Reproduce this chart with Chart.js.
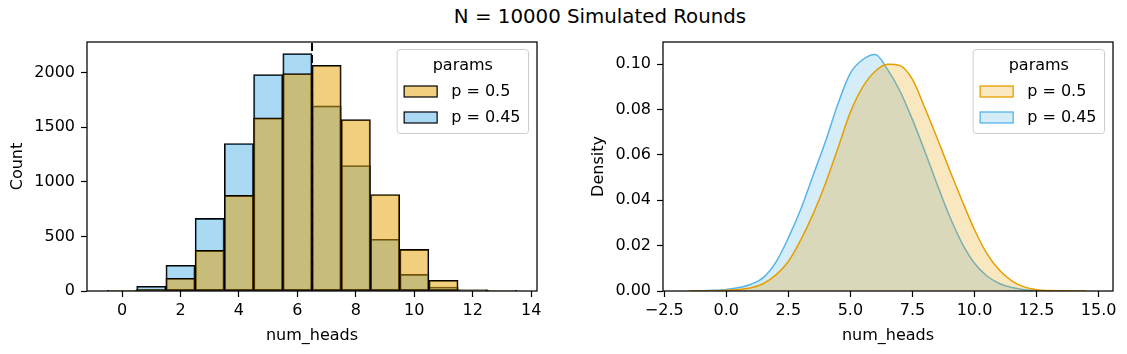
<!DOCTYPE html>
<html>
<head>
<meta charset="utf-8">
<script src="https://cdn.jsdelivr.net/npm/chart.js@4.4.1/dist/chart.umd.min.js"></script>
<style>
  html, body { margin: 0; padding: 0; background: #fff; }
  #fig { position: relative; width: 1127px; height: 354px; overflow: hidden; font-family: 'DejaVu Sans', sans-serif; }
  #suptitle { position: absolute; top: 6px; left: 0; width: 1200px; text-align: center; font-size: 19.8px; line-height: 22px; color: #000; }
  canvas { position: absolute; top: 0; }
  #histChart { left: 0; }
  #kdeChart { left: 560px; }
</style>
</head>
<body>
<div id="fig">
  <div id="suptitle">N = 10000 Simulated Rounds</div>
  <canvas id="histChart" width="560" height="354"></canvas>
  <canvas id="kdeChart" width="567" height="354"></canvas>
</div>
<script>
// --- data ---
const paramLabels = ['p = 0.5', 'p = 0.45'];

const headBins = [0, 1, 2, 3, 4, 5, 6, 7, 8, 9, 10, 11, 12, 13];
const countsP50 = [1, 16, 116, 372, 875, 1585, 1991, 2067, 1570, 884, 381, 98, 14, 2];
const countsP45 = [5, 43, 235, 665, 1351, 1982, 2174, 1695, 1149, 473, 152, 37, 6, 1];
const meanLine = 6.5;

const histXTicks = [0, 2, 4, 6, 8, 10, 12, 14];
const histYTicks = [0, 500, 1000, 1500, 2000];
const histXRange = [-1.2, 14.2];
const histYMax = 2280;

const kdeX = [-1.5, -1.0, -0.5, 0.0, 0.5, 1.0, 1.5, 2.0, 2.5, 3.0, 3.5, 4.0, 4.5, 5.0, 5.5, 6.0,
  6.5, 7.0, 7.5, 8.0, 8.5, 9.0, 9.5, 10.0, 10.5, 11.0, 11.5, 12.0, 12.5, 13.0, 13.5, 14.0, 14.5];
const densityP50 = [0.0000, 0.00002, 0.0001, 0.0003, 0.0007, 0.0014, 0.0033, 0.0071, 0.0130, 0.0225, 0.0340,
  0.0475, 0.0630, 0.0788, 0.0899, 0.0968, 0.0999, 0.0993, 0.0932, 0.0806, 0.0672, 0.0532, 0.0398, 0.0270,
  0.0165, 0.0092, 0.0045, 0.0018, 0.0006, 0.0002, 0.0001, 0.00003, 0.0000];
const densityP45 = [0.00003, 0.0001, 0.0003, 0.0007, 0.0015, 0.0030, 0.0060, 0.0127, 0.0234, 0.0360, 0.0510,
  0.0660, 0.0825, 0.0960, 0.1020, 0.1042, 0.0975, 0.0880, 0.0755, 0.0615, 0.0468, 0.0328, 0.0210, 0.0122,
  0.0066, 0.0033, 0.0015, 0.0006, 0.0002, 0.0001, 0.00003, 0.0000, null];

const kdeXTicks = [-2.5, 0, 2.5, 5, 7.5, 10, 12.5, 15];
const kdeYTicks = [0, 0.02, 0.04, 0.06, 0.08, 0.10];
const kdeXRange = [-2.55, 15.58];
const kdeYMax = 0.1097;

const ORANGE = '#E69F00';
const BLUE = '#56B4E9';

Chart.defaults.font.family = "'DejaVu Sans', sans-serif";
Chart.defaults.font.size = 16;
Chart.defaults.color = '#000';

// box round the plot area, like matplotlib spines
const frame = {
    id: 'frame',
    afterDatasetsDraw(chart) {
        const { ctx, chartArea: a } = chart;
        ctx.save();
        ctx.strokeStyle = '#000';
        ctx.lineWidth = 1.25;
        ctx.strokeRect(a.left, a.top, a.right - a.left, a.bottom - a.top);
        ctx.restore();
    }
};

// legend box with a title, drawn inside the upper right corner
const boxLegend = {
    id: 'boxLegend',
    afterDraw(chart, args, opts) {
        const { ctx, chartArea: a } = chart;
        const items = chart.data.datasets.filter(d => paramLabels.includes(d.label));
        ctx.save();
        ctx.font = "16px 'DejaVu Sans', sans-serif";
        const textW = Math.max(...items.map(d => ctx.measureText(d.label).width));
        const w = 7 + 33 + 14 + textW + 8;
        const h = 84;
        const x0 = a.right - 8.5 - w;
        const y0 = a.top + 7.5;

        ctx.beginPath();
        ctx.roundRect(x0, y0, w, h, 3);
        ctx.fillStyle = 'rgba(255,255,255,0.8)';
        ctx.fill();
        ctx.strokeStyle = '#cccccc';
        ctx.lineWidth = 1;
        ctx.stroke();

        ctx.fillStyle = '#000';
        ctx.textBaseline = 'middle';
        ctx.textAlign = 'center';
        ctx.fillText(opts.title, x0 + w / 2, y0 + 16);

        ctx.textAlign = 'left';
        items.forEach((d, i) => {
            const rowY = y0 + 42 + i * 26;
            ctx.fillStyle = d.backgroundColor;
            ctx.fillRect(x0 + 7, rowY - 5.5, 33, 11);
            ctx.strokeStyle = d.borderColor;
            ctx.lineWidth = opts.handleLine;
            ctx.strokeRect(x0 + 7, rowY - 5.5, 33, 11);
            ctx.fillStyle = '#000';
            ctx.fillText(d.label, x0 + 7 + 33 + 14, rowY);
        });
        ctx.restore();
    }
};

function axisOpts(ticks, fitSize, horizontal, extra) {
    const o = {
        type: 'linear',
        afterBuildTicks: s => { s.ticks = ticks.map(v => ({ value: v })); },
        afterFit: s => { if (horizontal) s.height = fitSize; else s.width = fitSize; },
        grid: { offset: false, drawOnChartArea: false, tickLength: 6, tickColor: '#000', tickWidth: 1.2 },
        border: { display: false },
        ticks: { color: '#000', padding: horizontal ? 4 : 6, autoSkip: false, maxRotation: 0,
            callback: v => String(v) }
    };
    return Object.assign(o, extra);
}

// left: histogram
new Chart(document.getElementById('histChart'), {
    type: 'bar',
    data: {
        datasets: [
            {
                type: 'line',
                label: 'mean',
                data: [{ x: meanLine, y: 0 }, { x: meanLine, y: histYMax }],
                borderColor: '#000',
                borderWidth: 2,
                borderDash: [8, 4],
                pointRadius: 0,
                order: 0
            },
            {
                label: paramLabels[0],
                data: headBins.map((b, i) => ({ x: b, y: countsP50[i] })),
                backgroundColor: 'rgba(230,159,0,0.5)',
                borderColor: '#000',
                borderWidth: 1.2,
                borderSkipped: false,
                barPercentage: 1,
                categoryPercentage: 1,
                grouped: false,
                order: 1
            },
            {
                label: paramLabels[1],
                data: headBins.map((b, i) => ({ x: b, y: countsP45[i] })),
                backgroundColor: 'rgba(86,180,233,0.5)',
                borderColor: '#000',
                borderWidth: 1.2,
                borderSkipped: false,
                barPercentage: 1,
                categoryPercentage: 1,
                grouped: false,
                order: 2
            }
        ]
    },
    options: {
        responsive: false,
        animation: false,
        layout: { padding: { top: 42, right: 23, left: 0, bottom: 0 } },
        scales: {
            x: axisOpts(histXTicks, 63, true, {
                min: histXRange[0], max: histXRange[1], offset: false,
                title: { display: true, text: 'num_heads', color: '#000', padding: { top: 0, bottom: 9 } }
            }),
            y: axisOpts(histYTicks, 87, false, {
                min: 0, max: histYMax,
                title: { display: true, text: 'Count', color: '#000', padding: { top: 8, bottom: 0 } }
            })
        },
        plugins: {
            legend: { display: false },
            tooltip: { enabled: false },
            boxLegend: { title: 'params', handleLine: 1.2 }
        }
    },
    plugins: [frame, boxLegend]
});

// right: density
function kdePoints(ys) {
    return kdeX.map((x, i) => ({ x: x, y: ys[i] }));
}

new Chart(document.getElementById('kdeChart'), {
    type: 'line',
    data: {
        datasets: [
            {
                label: paramLabels[0],
                data: kdePoints(densityP50),
                borderColor: ORANGE,
                backgroundColor: 'rgba(230,159,0,0.25)',
                borderWidth: 1.5,
                fill: 'origin',
                pointRadius: 0,
                cubicInterpolationMode: 'monotone',
                order: 1
            },
            {
                label: paramLabels[1],
                data: kdePoints(densityP45),
                borderColor: BLUE,
                backgroundColor: 'rgba(86,180,233,0.25)',
                borderWidth: 1.5,
                fill: 'origin',
                pointRadius: 0,
                cubicInterpolationMode: 'monotone',
                order: 2
            }
        ]
    },
    options: {
        responsive: false,
        animation: false,
        layout: { padding: { top: 42, right: 14, left: 0, bottom: 0 } },
        scales: {
            x: axisOpts(kdeXTicks, 63, true, {
                min: kdeXRange[0], max: kdeXRange[1],
                ticks: { color: '#000', padding: 4, autoSkip: false, maxRotation: 0,
                    callback: v => v.toFixed(1).replace('-', '\u2212') },
                title: { display: true, text: 'num_heads', color: '#000', padding: { top: 0, bottom: 9 } }
            }),
            y: axisOpts(kdeYTicks, 103, false, {
                min: 0, max: kdeYMax,
                ticks: { color: '#000', padding: 6, autoSkip: false, callback: v => v.toFixed(2) },
                title: { display: true, text: 'Density', color: '#000', padding: { top: 29, bottom: 0 } }
            })
        },
        plugins: {
            legend: { display: false },
            tooltip: { enabled: false },
            boxLegend: { title: 'params', handleLine: 1.3 }
        }
    },
    plugins: [frame, boxLegend]
});
</script>
</body>
</html>
